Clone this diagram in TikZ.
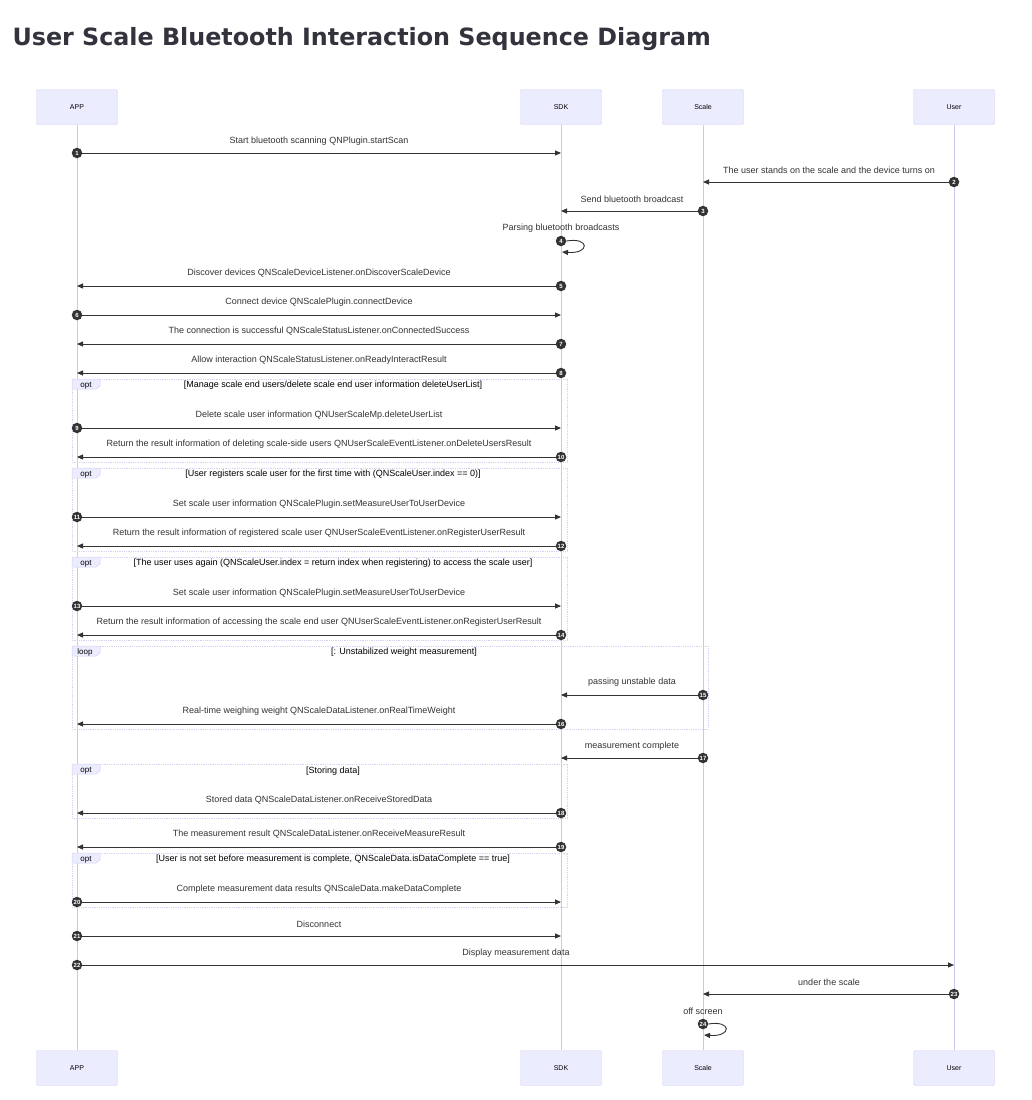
\documentclass[tikz,border=0pt]{standalone}
\usepackage{fontspec}
\setmainfont{Liberation Sans}
\newfontfamily\titlefont{DejaVu Sans}
\usetikzlibrary{arrows.meta}
\definecolor{actorfill}{HTML}{ECECFF}
\definecolor{actorline}{HTML}{D8D0F3}
\definecolor{lifeline}{HTML}{CEC6EE}
\definecolor{signal}{HTML}{333333}
\definecolor{titlecol}{HTML}{33333D}
\tikzset{
  actor/.style={draw=actorline, fill=actorfill, rounded corners=1.5pt, minimum width=81pt, minimum height=35pt, inner sep=0pt, text=black, font=\fontsize{7}{8}\selectfont},
  life/.style={draw=lifeline, line width=0.7pt},
  msg/.style={draw=signal, line width=0.9pt, -{Triangle[length=6pt,width=5pt]}},
  num/.style={circle, fill=signal, inner sep=0pt, minimum size=10.5pt, text=white, font=\fontsize{6}{6}\selectfont\bfseries},
  lbl/.style={text=signal, inner sep=0pt, font=\fontsize{9}{10}\selectfont},
  frame/.style={draw=actorline, densely dotted, line width=0.8pt},
  tab/.style={fill=actorfill, draw=actorline, line width=0.5pt},
  tablbl/.style={text=black, inner sep=0pt, anchor=base, font=\fontsize{8}{9}\selectfont},
  cond/.style={text=black, inner sep=0pt, font=\fontsize{9}{10}\selectfont}
}
\begin{document}
\begin{tikzpicture}[x=1pt,y=-1pt]
\useasboundingbox[fill=white] (0,0) rectangle (1032,1100);

\node[anchor=base west, text=titlecol, font=\titlefont\fontsize{23.8}{26}\selectfont\bfseries] (title) at (9,45) {User Scale Bluetooth Interaction Sequence Diagram};

% participants
\node[actor] (appT) at (77,107) {APP};
\node[actor] (sdkT) at (561,107) {SDK};
\node[actor] (scaleT) at (703,107) {Scale};
\node[actor] (userT) at (954,107) {User};
\node[actor] (appB) at (77,1068) {APP};
\node[actor] (sdkB) at (561,1068) {SDK};
\node[actor] (scaleB) at (703,1068) {Scale};
\node[actor] (userB) at (954,1068) {User};

\draw[life] (appT) -- (appB);
\draw[life] (sdkT) -- (sdkB);
\draw[life] (scaleT) -- (scaleB);
\draw[life] (userT) -- (userB);

% frames
\draw[frame] (72,379) rectangle (567,462);
\draw[frame] (72,468) rectangle (567,551);
\draw[frame] (72,557) rectangle (567,640);
\draw[frame] (72,646) rectangle (708,729);
\draw[frame] (72,764) rectangle (567,818);
\draw[frame] (72,853) rectangle (567,907);

\draw[tab] (72,379) -- (100,379) -- (100,386) -- (96,389) -- (72,389) -- cycle;
\draw[tab] (72,468) -- (100,468) -- (100,475) -- (96,478) -- (72,478) -- cycle;
\draw[tab] (72,557) -- (100,557) -- (100,564) -- (96,567) -- (72,567) -- cycle;
\draw[tab] (72,646) -- (100,646) -- (100,653) -- (96,656) -- (72,656) -- cycle;
\draw[tab] (72,764) -- (100,764) -- (100,771) -- (96,774) -- (72,774) -- cycle;
\draw[tab] (72,853) -- (100,853) -- (100,860) -- (96,863) -- (72,863) -- cycle;

\node[tablbl] (tab1) at (86,387) {opt};
\node[tablbl] (tab2) at (86,476) {opt};
\node[tablbl] (tab3) at (86,565) {opt};
\node[tablbl] (tab4) at (85,654) {loop};
\node[tablbl] (tab5) at (86,772) {opt};
\node[tablbl] (tab6) at (86,861) {opt};

\node[cond] (c1) at (333,385.5) {[Manage scale end users/delete scale end user information deleteUserList]};
\node[cond] (c2) at (333,474.5) {[User registers scale user for the first time with (QNScaleUser.index == 0)]};
\node[cond] (c3) at (333,563.5) {[The user uses again (QNScaleUser.index = return index when registering) to access the scale user]};
\node[cond] (c4) at (404,652.5) {[: Unstabilized weight measurement]};
\node[cond] (c5) at (333,771.5) {[Storing data]};
\node[cond] (c6) at (333,859.5) {[User is not set before measurement is complete, QNScaleData.isDataComplete == true]};

% messages
\node[num] (n1) at (77,153) {1};
\draw[msg] (n1) -- (n1 -| sdkT);
\node[lbl] (l1) at (319,141) {Start bluetooth scanning QNPlugin.startScan};

\node[num] (n2) at (954,182) {2};
\draw[msg] (n2) -- (n2 -| scaleT);
\node[lbl] (l2) at (829,170) {The user stands on the scale and the device turns on};

\node[num] (n3) at (703,211) {3};
\draw[msg] (n3) -- (n3 -| sdkT);
\node[lbl] (l3) at (632,199) {Send bluetooth broadcast};

\node[num] (n4) at (561,241) {4};
\coordinate (s4) at (562,252);
\draw[msg] (n4.east) .. controls (590,237) and (590,254) .. (s4);
\node[lbl] (l4) at (561,228) {Parsing bluetooth broadcasts};

\node[num] (n5) at (561,286) {5};
\draw[msg] (n5) -- (n5 -| appT);
\node[lbl] (l5) at (319,273) {Discover devices QNScaleDeviceListener.onDiscoverScaleDevice};

\node[num] (n6) at (77,315) {6};
\draw[msg] (n6) -- (n6 -| sdkT);
\node[lbl] (l6) at (319,302) {Connect device QNScalePlugin.connectDevice};

\node[num] (n7) at (561,344) {7};
\draw[msg] (n7) -- (n7 -| appT);
\node[lbl] (l7) at (319,331) {The connection is successful QNScaleStatusListener.onConnectedSuccess};

\node[num] (n8) at (561,373) {8};
\draw[msg] (n8) -- (n8 -| appT);
\node[lbl] (l8) at (319,360) {Allow interaction QNScaleStatusListener.onReadyInteractResult};

\node[num] (n9) at (77,428) {9};
\draw[msg] (n9) -- (n9 -| sdkT);
\node[lbl] (l9) at (319,415) {Delete scale user information QNUserScaleMp.deleteUserList};

\node[num] (n10) at (561,457) {10};
\draw[msg] (n10) -- (n10 -| appT);
\node[lbl] (l10) at (319,444) {Return the result information of deleting scale-side users QNUserScaleEventListener.onDeleteUsersResult};

\node[num] (n11) at (77,517) {11};
\draw[msg] (n11) -- (n11 -| sdkT);
\node[lbl] (l11) at (319,504) {Set scale user information QNScalePlugin.setMeasureUserToUserDevice};

\node[num] (n12) at (561,546) {12};
\draw[msg] (n12) -- (n12 -| appT);
\node[lbl] (l12) at (319,533) {Return the result information of registered scale user QNUserScaleEventListener.onRegisterUserResult};

\node[num] (n13) at (77,606) {13};
\draw[msg] (n13) -- (n13 -| sdkT);
\node[lbl] (l13) at (319,593) {Set scale user information QNScalePlugin.setMeasureUserToUserDevice};

\node[num] (n14) at (561,635) {14};
\draw[msg] (n14) -- (n14 -| appT);
\node[lbl] (l14) at (319,622) {Return the result information of accessing the scale end user QNUserScaleEventListener.onRegisterUserResult};

\node[num] (n15) at (703,695) {15};
\draw[msg] (n15) -- (n15 -| sdkT);
\node[lbl] (l15) at (632,682) {passing unstable data};

\node[num] (n16) at (561,724) {16};
\draw[msg] (n16) -- (n16 -| appT);
\node[lbl] (l16) at (319,711) {Real-time weighing weight QNScaleDataListener.onRealTimeWeight};

\node[num] (n17) at (703,758) {17};
\draw[msg] (n17) -- (n17 -| sdkT);
\node[lbl] (l17) at (632,746) {measurement complete};

\node[num] (n18) at (561,813) {18};
\draw[msg] (n18) -- (n18 -| appT);
\node[lbl] (l18) at (319,800) {Stored data QNScaleDataListener.onReceiveStoredData};

\node[num] (n19) at (561,847) {19};
\draw[msg] (n19) -- (n19 -| appT);
\node[lbl] (l19) at (319,834) {The measurement result QNScaleDataListener.onReceiveMeasureResult};

\node[num] (n20) at (77,902) {20};
\draw[msg] (n20) -- (n20 -| sdkT);
\node[lbl] (l20) at (319,889) {Complete measurement data results QNScaleData.makeDataComplete};

\node[num] (n21) at (77,936) {21};
\draw[msg] (n21) -- (n21 -| sdkT);
\node[lbl] (l21) at (319,924) {Disconnect};

\node[num] (n22) at (77,965) {22};
\draw[msg] (n22) -- (n22 -| userT);
\node[lbl] (l22) at (516,953) {Display measurement data};

\node[num] (n23) at (954,994) {23};
\draw[msg] (n23) -- (n23 -| scaleT);
\node[lbl] (l23) at (829,982) {under the scale};

\node[num] (n24) at (703,1024) {24};
\coordinate (s24) at (704,1035);
\draw[msg] (n24.east) .. controls (732,1020) and (732,1037) .. (s24);
\node[lbl] (l24) at (703,1011) {off screen};
\end{tikzpicture}
\end{document}
